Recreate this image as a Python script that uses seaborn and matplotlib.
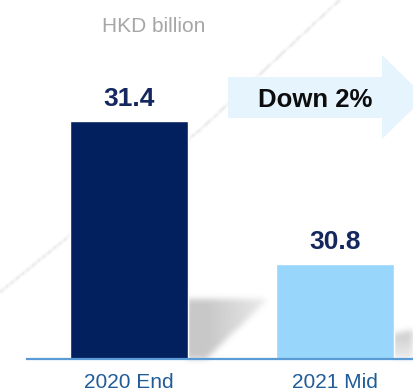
import numpy as np
import matplotlib
matplotlib.use("Agg")
import matplotlib.pyplot as plt
from matplotlib.path import Path
from matplotlib.patches import Polygon
import seaborn as sns

# Values (HKD billion)
periods = ["2020 End", "2021 Mid"]
values = [31.4, 30.8]
bar_colors = ["#03205e", "#99d6fc"]
unit_label = "HKD billion"
change_label = "Down 2%"

sns.set_theme(style="white")
plt.rcParams["font.family"] = ["Liberation Sans", "DejaVu Sans"]

W, H = 413, 391
fig = plt.figure(figsize=(W / 100, H / 100), dpi=100)
fig.patch.set_facecolor("white")

# ---- soft background decoration: shadows and a faint diagonal streak ----
yy, xx = np.mgrid[0:H, 0:W]
pts = np.column_stack([xx.ravel() + 0.5, yy.ravel() + 0.5])


def poly_mask(verts):
    return Path(verts).contains_points(pts).reshape(H, W).astype(float)


def blur(a, sigma):
    r = int(3 * sigma)
    k = np.exp(-0.5 * (np.arange(-r, r + 1) / sigma) ** 2)
    k /= k.sum()
    a = np.apply_along_axis(lambda v: np.convolve(v, k, mode="same"), 0, a)
    a = np.apply_along_axis(lambda v: np.convolve(v, k, mode="same"), 1, a)
    return a


shadow = poly_mask([(186, 299), (268, 299), (206, 359), (186, 359)])
shadow *= np.clip(1.2 - (xx - 188) / 95.0, 0, 1)
shadow2 = poly_mask([(392, 334), (413, 330), (413, 359), (392, 359)])
shadow2 *= np.clip(1.0 - (yy - 334) / 40.0, 0.3, 1)
shade = blur(shadow * 0.48 + shadow2 * 0.42, 3.0)

streak = np.zeros((H, W))
sx = np.concatenate([np.linspace(345, 200, 300), np.linspace(200, 0, 400)])
sy = np.concatenate([np.linspace(-5, 130, 300), np.linspace(130, 292, 400)])
for px, py in zip(sx, sy):
    ix, iy = int(px), int(py)
    if 0 <= ix < W and 0 <= iy < H:
        streak[iy, ix] = 1.0
streak = blur(streak, 1.2)
streak = streak / streak.max() * 0.16

alpha = np.clip(shade + streak, 0, 1)
rgba = np.zeros((H, W, 4))
rgba[..., :3] = 0.55
rgba[..., 3] = alpha
fig.figimage(rgba, xo=0, yo=0, origin="upper", zorder=0)

# ---- bars ----
axis_floor = 30.4
ax = fig.add_axes([27 / W, 32 / H, 386 / W, 359 / H])
ax.patch.set_alpha(0)
ax.set_zorder(2)
sns.barplot(x=periods, y=values, hue=periods, palette=bar_colors,
            order=periods, hue_order=periods, width=0.573,
            saturation=1, legend=False, ax=ax)
ax.set_xlim(-0.495, 1.379)
ax.set_ylim(axis_floor, axis_floor + 359 / 238)

for s in ["top", "right", "left"]:
    ax.spines[s].set_visible(False)
ax.spines["bottom"].set_color("#5b9bd5")
ax.spines["bottom"].set_linewidth(1.6)
ax.set_yticks([])
ax.set_xlabel("")
ax.set_ylabel("")
ax.tick_params(axis="x", length=0, pad=10, labelsize=15, labelcolor="#1f5c99")

for i, v in enumerate(values):
    ax.annotate(f"{v:.1f}", xy=(i, v), xytext=(0, 11), textcoords="offset points",
                ha="center", va="baseline", fontsize=19, fontweight="bold",
                color="#14285f")

# ---- change arrow ----
def fpx(x, y):
    return (x / W, 1 - y / H)


arrow = Polygon([fpx(228, 77), fpx(382, 77), fpx(382, 55), fpx(425, 97),
                 fpx(382, 139), fpx(382, 118), fpx(228, 118)],
                closed=True, transform=fig.transFigure, facecolor="#e6f4fd",
                edgecolor="none", zorder=1)
fig.patches.append(arrow)

fig.text(315 / W, 1 - 107 / H, change_label, ha="center", va="baseline",
         fontsize=18.5, fontweight="bold", color="#0d0d0d", zorder=3)
fig.text(154 / W, 1 - 32 / H, unit_label, ha="center", va="baseline",
         fontsize=15, color="#a6a6a6", zorder=3)

fig.savefig("out.png", dpi=100)
